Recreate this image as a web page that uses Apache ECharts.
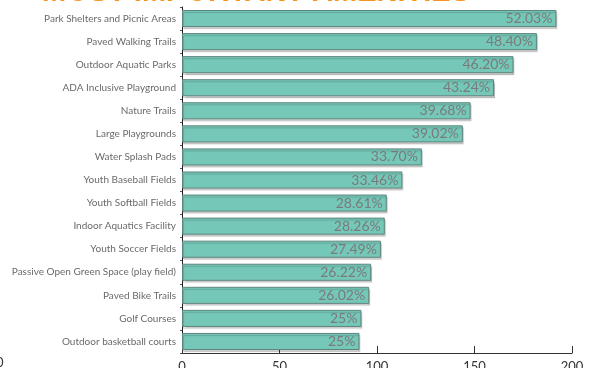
<!DOCTYPE html>
<html>
<head>
<meta charset="utf-8">
<script src="https://cdn.jsdelivr.net/npm/echarts@6/dist/echarts.min.js"></script>
<style>
html,body{margin:0;padding:0;background:#fff;}
#c{width:595px;height:368px;}
</style>
</head>
<body>
<div id="c"></div>
<script>
var titleText = 'MOST IMPORTANT AMENITIES';
var categories = [
  'Park Shelters and Picnic Areas',
  'Paved Walking Trails',
  'Outdoor Aquatic Parks',
  'ADA Inclusive Playground',
  'Nature Trails',
  'Large Playgrounds',
  'Water Splash Pads',
  'Youth Baseball Fields',
  'Youth Softball Fields',
  'Indoor Aquatics Facility',
  'Youth Soccer Fields',
  'Passive Open Green Space (play field)',
  'Paved Bike Trails',
  'Golf Courses',
  'Outdoor basketball courts'
];
var counts = [192, 182, 170, 160, 148, 144, 123, 113, 105, 104, 102, 97, 96, 92, 91];
var percentLabels = ['52.03%', '48.40%', '46.20%', '43.24%', '39.68%', '39.02%', '33.70%', '33.46%', '28.61%', '28.26%', '27.49%', '26.22%', '26.02%', '25%', '25%'];
var xTicks = [0, 50, 100, 150, 200];

var chart = echarts.init(document.getElementById('c'), null, {renderer: 'canvas'});
var data = counts.map(function (v, i) {
  return {value: v, label: {formatter: percentLabels[i]}};
});
chart.setOption({
  animation: false,
  grid: {left: 182, right: 23, top: 7, bottom: 15, containLabel: false, outerBoundsMode: 'none'},
  xAxis: {
    type: 'value',
    min: xTicks[0],
    max: xTicks[xTicks.length - 1],
    interval: 50,
    splitLine: {show: false},
    axisLine: {show: true, lineStyle: {color: '#333', width: 1}},
    axisTick: {show: true, inside: true, length: 7, lineStyle: {color: '#333'}},
    axisLabel: {color: '#333', fontSize: 13, margin: 7, fontFamily: 'Lato'}
  },
  yAxis: {
    type: 'category',
    data: categories,
    inverse: true,
    axisLine: {show: true, lineStyle: {color: '#222', width: 1}},
    axisTick: {show: true, length: 2, lineStyle: {color: '#555'}},
    axisLabel: {color: '#6a6a6a', fontSize: 10, margin: 6, fontFamily: 'Lato'}
  },
  series: [{
    type: 'bar',
    data: data,
    barCategoryGap: '26%',
    itemStyle: {
      color: '#75c8b8',
      borderColor: '#5e857d',
      borderWidth: 1,
      shadowColor: 'rgba(0,0,0,0.18)',
      shadowOffsetX: 1,
      shadowOffsetY: 2,
      shadowBlur: 1
    },
    label: {
      show: true,
      position: 'insideRight',
      distance: 4,
      color: '#7a7a7a',
      fontSize: 14,
      fontFamily: 'Lato'
    }
  }],
  graphic: [
    {
      type: 'text',
      left: 42,
      top: -22,
      style: {
        text: titleText,
        fill: '#f7941d',
        font: 'bold 29px "Liberation Sans", Arial, sans-serif'
      }
    },
    {
      type: 'text',
      left: -4,
      top: 356,
      style: {
        text: '0',
        fill: '#333',
        font: '13px Lato, sans-serif'
      }
    }
  ]
});
</script>
</body>
</html>
